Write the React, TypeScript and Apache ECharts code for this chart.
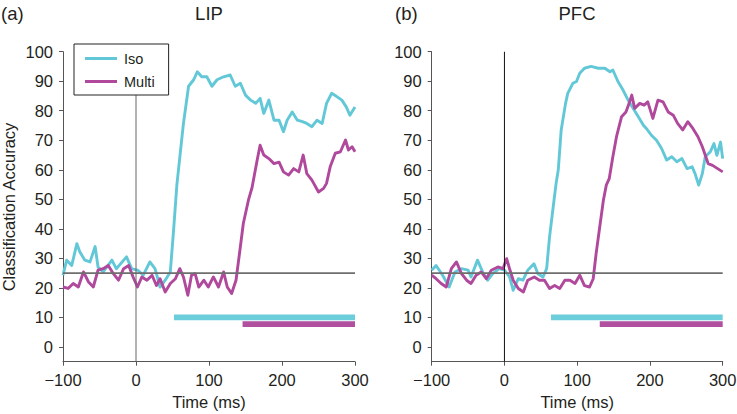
import React, { useEffect, useRef } from "react";
import * as echarts from "echarts";

// ---- data ----
const timeTicks = [-100, 0, 100, 200, 300];
const accuracyTicks = [0, 10, 20, 30, 40, 50, 60, 70, 80, 90, 100];
const accuracyMin = -5;
const chanceLevel = 25;
const stimulusOnset = 0;
const panelTitles = ["LIP", "PFC"];
const panelLetters = ["(a)", "(b)"];
const seriesNames = ["Iso", "Multi"];

const lipIso: [number, number][] = [
  [-100, 24.3], [-95, 29.4], [-88, 27.6], [-81, 35], [-77, 32.2], [-70, 29.4], [-63, 28.8], [-56, 34],
  [-52, 27.1], [-45, 25.4], [-33, 29.4], [-27, 26.5], [-13, 30.5], [-6, 26.5], [3, 25.9], [10, 24.3],
  [19, 28.8], [26, 26.5], [33, 20.3], [40, 22.6], [47, 25.4], [51.5, 39.6], [56, 55], [65, 75.7],
  [72, 88.3], [79, 90.5], [84, 93.2], [90, 91.5], [97, 91.5], [104, 88.3], [111, 90.5], [120, 91.5],
  [129, 92.1], [136, 88.3], [143, 89.3], [150, 85.3], [157, 83.6], [164, 82.5], [170, 84.2], [175, 79.1],
  [182, 83.6], [189, 76.8], [196, 76.8], [202, 72.9], [207, 76.8], [214, 79.6], [221, 76.8], [228, 76.3],
  [234, 75.7], [241, 74.6], [248, 76.8], [255, 75.7], [261, 82.5], [268, 85.9], [275, 84.8], [282, 83.6],
  [288, 81.3], [293, 78.5], [300, 81.3],
];
const lipMulti: [number, number][] = [
  [-100, 20.3], [-93, 19.8], [-86, 21.5], [-79, 20.3], [-72, 25.4], [-65, 22], [-58.5, 20.3], [-52, 26],
  [-45, 26.5], [-38, 27.6], [-31, 24.8], [-24, 22.6], [-17, 26.5], [-10, 27.6], [-4, 23.7], [2, 20.3],
  [8, 23.7], [15, 22.6], [22, 24.3], [28, 20.8], [33, 23.1], [40, 18.6], [47, 21.5], [54, 23.1],
  [60, 26.5], [65, 23.7], [71, 17.5], [76, 24.3], [81, 24.8], [86, 20.3], [93, 22.6], [99, 20.3],
  [106, 23.7], [113, 20.3], [120, 25.4], [125, 20.3], [131, 18.1], [137, 22.6], [143, 34], [147, 41.8],
  [154, 49.7], [159, 54], [166, 63.3], [170, 68.3], [175, 65], [182, 63.8], [189, 62.1], [196, 62.6],
  [202, 59.3], [209, 58.2], [216, 60.4], [223, 59.3], [229, 65], [234, 58.7], [241, 56.5], [250, 52.5],
  [257, 53.7], [261, 55.4], [266, 61], [273, 65.6], [280, 66.1], [287, 70.1], [291, 66.7], [296, 67.8],
  [300, 66.1],
];
const pfcIso: [number, number][] = [
  [-100, 26], [-94, 27.6], [-85, 24.3], [-76, 20.3], [-68, 25.4], [-59, 26.5], [-50, 26], [-46, 23.7],
  [-37, 29.4], [-30, 25.4], [-23, 22.6], [-16, 24.8], [-7, 26.5], [0, 26], [7, 23.7], [12, 19.2],
  [19, 23.1], [25.5, 22.6], [32, 26], [40.6, 28.2], [46, 24.8], [53, 23.7], [58, 26.5], [62, 37.3],
  [67, 47.4], [71, 55.4], [74, 60], [78, 73.5], [84, 82.5], [87, 85.9], [94, 89.3], [99, 89.9],
  [103.5, 92.7], [110, 94.4], [119, 95], [129, 94.4], [138, 94.4], [145, 93.2], [149, 93.8], [156, 89.9],
  [163, 87], [170, 83.6], [177, 80.8], [184, 78], [191, 75.1], [195, 74], [202, 71.7], [209, 70],
  [216, 67.2], [223, 63.3], [230, 64.4], [237, 62.7], [244, 63.8], [251, 60.4], [258, 61], [262, 58.7],
  [267, 54.8], [272, 58.7], [276, 64.4], [283, 66.1], [288, 68.9], [292, 64.9], [297, 69.4], [300, 63.8],
];
const pfcMulti: [number, number][] = [
  [-100, 24.3], [-94, 23.1], [-87, 21.5], [-80, 20.3], [-73, 26.5], [-66, 28.8], [-59, 24.8], [-52, 22.6],
  [-46, 21.5], [-39, 24.3], [-32, 25.4], [-25, 23.1], [-18, 26], [-9, 27.1], [-2, 26.5], [3, 29.9],
  [7, 26.5], [12, 22.6], [19, 19.8], [26, 18.6], [32, 22.6], [41, 23.7], [48, 22.6], [55, 22.6],
  [62, 19.8], [69, 20.8], [76, 19.8], [83, 22.6], [90, 22.6], [97, 21.5], [103.5, 24.3], [110, 20.8],
  [117, 20.3], [122, 23.1], [126, 31.6], [131, 40.7], [136, 49.7], [140, 54.8], [144, 57], [149, 64.4],
  [154, 71.2], [161, 78], [167, 79.6], [172, 83], [175, 85.3], [179, 80.8], [186, 82.5], [192, 81.9],
  [197, 83], [204, 77.4], [211, 83.6], [218, 83], [225, 79.6], [232, 78.5], [238, 75.7], [245, 73.5],
  [252, 76.3], [259, 74], [266, 71.2], [272, 67.8], [280, 62.1], [286, 61.5], [293, 60.4], [300, 59.3],
];

// significant periods [start, end] (ms) and the level at which their bars are drawn
const lipIsoSig = [52, 300];
const lipMultiSig = [146, 300];
const pfcIsoSig = [64, 300];
const pfcMultiSig = [131, 300];
const isoBarLevel = 10;
const multiBarLevel = 7.7;

const panels = [
  { iso: lipIso, multi: lipMulti, isoSig: lipIsoSig, multiSig: lipMultiSig },
  { iso: pfcIso, multi: pfcMulti, isoSig: pfcIsoSig, multiSig: pfcMultiSig },
];

const CYAN = "#62c8d7";
const MAGENTA = "#b0489c";
const BAR_CYAN = "#6dcedb";
const BAR_MAGENTA = "#b0509e";
const TEXT = "#231f20";
const FONT = "'Liberation Sans', Arial, Helvetica, sans-serif";

export default function App() {
  const ref = useRef<HTMLDivElement>(null);

  useEffect(() => {
    if (!ref.current) return;
    const chart = echarts.init(ref.current, undefined, { renderer: "svg" });

    const xMin = timeTicks[0];
    const xMax = timeTicks[timeTicks.length - 1];
    const yMax = accuracyTicks[accuracyTicks.length - 1];

    const grids = [
      { left: 63, right: 382, top: 51.7, bottom: 52.3, containLabel: false, outerBoundsMode: "none" },
      { left: 431.7, right: 14.3, top: 51.7, bottom: 52.3, containLabel: false, outerBoundsMode: "none" },
    ];

    const xAxes = grids.map((_, i) => ({
      type: "value",
      gridIndex: i,
      min: xMin,
      max: xMax,
      interval: 100,
      name: "Time (ms)",
      nameLocation: "middle",
      nameGap: 32,
      nameTextStyle: { fontSize: 16.5, color: TEXT, fontFamily: FONT },
      axisLine: { show: true, onZero: false, lineStyle: { color: "#555", width: 1 } },
      axisTick: { show: true, inside: false, length: 4, lineStyle: { color: "#555" } },
      axisLabel: {
        margin: 10,
        fontSize: 16.5,
        color: TEXT,
        fontFamily: FONT,
        formatter: (v: number) => (v < 0 ? "\u2212" + Math.abs(v) : String(v)),
      },
      splitLine: { show: false },
    }));

    const yAxes = grids.map((_, i) => ({
      type: "value",
      gridIndex: i,
      min: accuracyMin,
      max: yMax,
      axisLine: { show: true, onZero: false, lineStyle: { color: "#555", width: 1 } },
      axisTick: { show: true, inside: false, length: 4, customValues: accuracyTicks, lineStyle: { color: "#555" } },
      axisLabel: { margin: 10, fontSize: 16.5, color: TEXT, fontFamily: FONT, customValues: accuracyTicks },
      splitLine: { show: false },
    }));

    const series: any[] = [];
    panels.forEach((p, i) => {
      const base = { xAxisIndex: i, yAxisIndex: i, showSymbol: false, symbol: "none", silent: true };
      // reference lines
      series.push({
        ...base,
        type: "line",
        name: "chance",
        z: 3,
        data: [[xMin, chanceLevel], [xMax, chanceLevel]],
        lineStyle: { color: "#6e6e6e", width: 1.6 },
      });
      series.push({
        ...base,
        type: "line",
        name: "onset",
        z: 3,
        data: [[stimulusOnset, accuracyMin], [stimulusOnset, yMax]],
        lineStyle: { color: i === 0 ? "#666" : "#111", width: 1 },
      });
      series.push({
        ...base,
        type: "line",
        name: seriesNames[0],
        z: 2,
        data: p.iso,
        lineStyle: { color: CYAN, width: 2.9, join: "round" },
        itemStyle: { color: CYAN },
      });
      series.push({
        ...base,
        type: "line",
        name: seriesNames[1],
        z: 2,
        data: p.multi,
        lineStyle: { color: MAGENTA, width: 2.9, join: "round" },
        itemStyle: { color: MAGENTA },
      });
      series.push({
        ...base,
        type: "line",
        name: "Iso significant",
        z: 2,
        data: [[p.isoSig[0], isoBarLevel], [p.isoSig[1], isoBarLevel]],
        lineStyle: { color: BAR_CYAN, width: 5.8, cap: "butt" },
      });
      series.push({
        ...base,
        type: "line",
        name: "Multi significant",
        z: 2,
        data: [[p.multiSig[0], multiBarLevel], [p.multiSig[1], multiBarLevel]],
        lineStyle: { color: BAR_MAGENTA, width: 5.8, cap: "butt" },
      });
    });

    const titleCenters = [209, 577];
    const letterLefts = [1, 395];
    const graphic: any[] = [];
    panelTitles.forEach((t, i) => {
      graphic.push({
        type: "text",
        x: titleCenters[i],
        y: 13,
        style: { text: t, font: `18.5px ${FONT}`, fill: TEXT, align: "center", verticalAlign: "middle" },
      });
      graphic.push({
        type: "text",
        x: letterLefts[i],
        y: 13,
        style: { text: panelLetters[i], font: `18.5px ${FONT}`, fill: TEXT, align: "left", verticalAlign: "middle" },
      });
    });
    graphic.push({
      type: "text",
      x: 9,
      y: 207,
      rotation: Math.PI / 2,
      style: {
        text: "Classification Accuracy",
        font: `16.5px ${FONT}`,
        fill: TEXT,
        align: "center",
        verticalAlign: "middle",
      },
    });

    chart.setOption({
      animation: false,
      backgroundColor: "#fff",
      grid: grids,
      xAxis: xAxes,
      yAxis: yAxes,
      legend: {
        data: seriesNames,
        orient: "vertical",
        left: 74,
        top: 44,
        padding: [7, 14, 6, 11],
        itemGap: 8,
        itemWidth: 32,
        itemHeight: 3,
        icon: "rect",
        backgroundColor: "#fff",
        borderColor: "#222",
        borderWidth: 1,
        borderRadius: 0,
        selectedMode: false,
        textStyle: { fontSize: 14.5, color: TEXT, fontFamily: FONT, padding: [0, 0, 0, 2] },
        z: 10,
      },
      graphic,
      series,
    });

    return () => chart.dispose();
  }, []);

  return <div ref={ref} style={{ width: 737, height: 414, position: "absolute", left: 0, top: 0 }} />;
}
